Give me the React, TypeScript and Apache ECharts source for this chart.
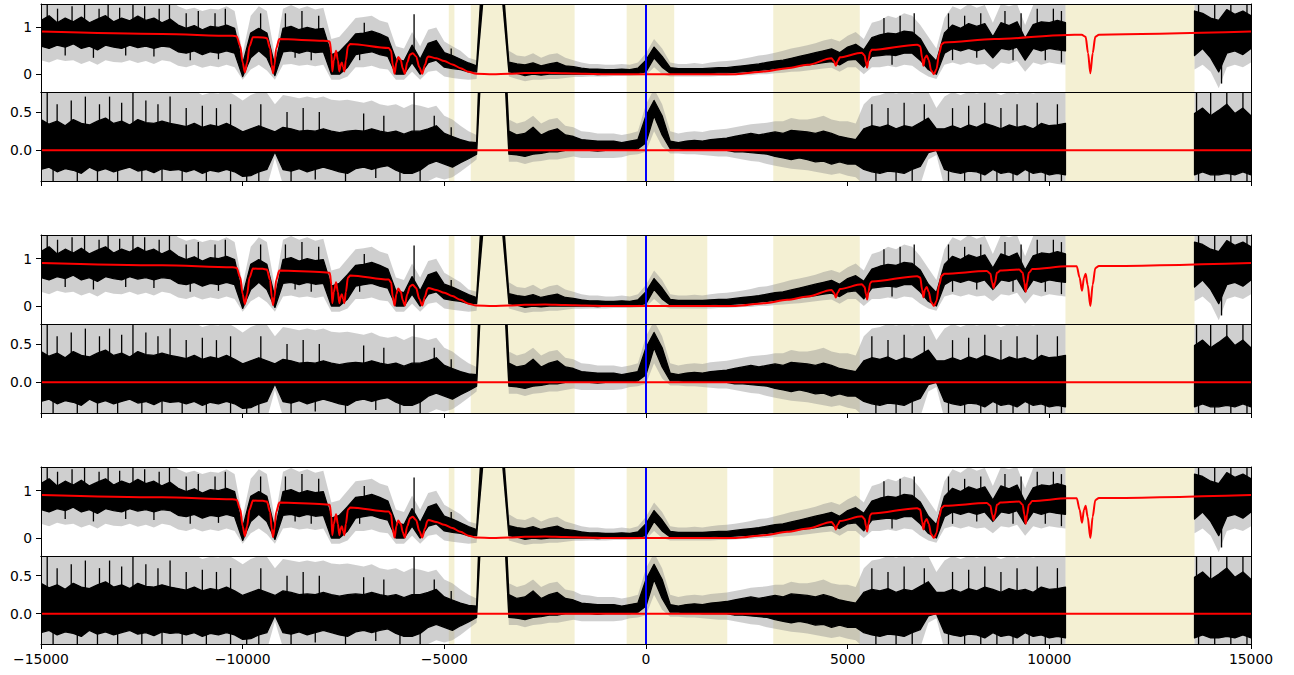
import React, { useEffect, useRef } from 'react';
import * as echarts from 'echarts';

// ---------- sampling grid of the observed spectrum (velocity, km/s) ----------
const X_A: number[] = Array.from({ length: 128 }, (_, i) => -15000 + 200 * i); // -15000 .. 10400
const X_B: number[] = [13600, 13800, 14000, 14200, 14400, 14600, 14800, 15000];

// ---------- normalised flux (upper panels): envelopes ----------
const FLUX_BLACK_LO_A = [
  0.60, 0.55, 0.62, 0.58, 0.65, 0.55, 0.60, 0.52, 0.62, 0.58, 0.55, 0.62, 0.57, 0.60, 0.55, 0.60, 0.58,
  0.48, 0.45, 0.50, 0.42, 0.48, 0.45, 0.50, 0.45,
  -0.05, 0.35, 0.50, 0.35, -0.03, 0.48, 0.50, 0.45, 0.50, 0.46, 0.48,
  0.0, 0.0, 0.15, 0.42, 0.45, 0.48, 0.42, 0.38,
  0.0, 0.0, 0.25, 0.0, 0.25, 0.30, 0.15, 0.12, 0.10, 0.05, 0.05,
  2.0, 3.0, 2.0,
  0.05, 0.02, -0.03, 0.0, -0.02, 0.0, 0.0, 0.0, 0.0, 0.0, 0.0, -0.01, 0.0, 0.0, 0.0, 0.0, 0.02,
  0.05, 0.35, 0.15,
  0.02, 0.02, 0.02, 0.02, 0.02, 0.02, 0.03, 0.03, 0.04, 0.05, 0.06, 0.08, 0.10, 0.12, 0.14, 0.16, 0.18, 0.20, 0.22, 0.25, 0.27,
  0.20, 0.30, 0.32, 0.15, 0.38, 0.40, 0.42, 0.40, 0.45, 0.45, 0.30, 0.10, 0.0, 0.45, 0.55, 0.50, 0.55, 0.50, 0.55, 0.35,
  0.55, 0.52, 0.58, 0.30, 0.55, 0.50, 0.55, 0.52, 0.50,
];
const FLUX_BLACK_HI_A = [
  1.15, 1.25, 1.10, 1.20, 1.12, 1.22, 1.10, 1.18, 1.25, 1.12, 1.20, 1.14, 1.24, 1.15, 1.20, 1.10, 1.18,
  1.05, 0.98, 1.04, 0.95, 1.02, 1.00, 1.05, 0.98,
  0.22, 0.88, 0.98, 0.88, 0.18, 0.98, 1.02, 0.95, 1.00, 0.96, 0.98,
  0.42, 0.48, 0.66, 0.86, 0.88, 0.92, 0.86, 0.78,
  0.32, 0.28, 0.62, 0.32, 0.66, 0.72, 0.46, 0.40, 0.32, 0.24, 0.18,
  3.0, 4.0, 2.5,
  0.26, 0.22, 0.20, 0.24, 0.18, 0.22, 0.25, 0.18, 0.16, 0.13, 0.11, 0.11, 0.10, 0.10, 0.11, 0.10, 0.13,
  0.30, 0.58, 0.38,
  0.14, 0.12, 0.12, 0.12, 0.12, 0.13, 0.14, 0.14, 0.16, 0.18, 0.20, 0.22, 0.25, 0.28, 0.30, 0.34, 0.38, 0.42, 0.46, 0.50, 0.54,
  0.46, 0.58, 0.64, 0.52, 0.78, 0.84, 0.88, 0.86, 0.92, 0.90, 0.76, 0.46, 0.28, 0.88, 1.05, 0.98, 1.08, 1.02, 1.08, 0.80,
  1.10, 1.04, 1.12, 0.76, 1.06, 1.12, 1.10, 1.15, 1.10,
];
const FLUX_GREY_LO_A = [
  0.30, 0.25, 0.32, 0.28, 0.30, 0.22, 0.28, 0.20, 0.30, 0.26, 0.25, 0.30, 0.24, 0.28, 0.22, 0.30, 0.27,
  0.18, 0.15, 0.20, 0.14, 0.18, 0.15, 0.20, 0.15,
  -0.12, 0.10, 0.20, 0.08, -0.12, 0.20, 0.22, 0.18, 0.20, 0.17, 0.20,
  -0.12, -0.12, -0.05, 0.15, 0.15, 0.18, 0.12, 0.10,
  -0.12, -0.12, 0.05, -0.12, 0.05, 0.08, -0.05, -0.08, -0.10, -0.12, -0.10,
  1.8, 2.8, 1.8,
  -0.05, -0.10, -0.15, -0.12, -0.12, -0.10, -0.10, -0.08, -0.06, -0.06, -0.05, -0.05, -0.05, -0.04, -0.04, -0.04, -0.03,
  -0.02, 0.15, 0.0,
  -0.05, -0.05, -0.05, -0.05, -0.05, -0.05, -0.04, -0.04, -0.03, -0.02, -0.02, 0.0, 0.0, 0.02, 0.03, 0.05, 0.06, 0.08, 0.10, 0.12, 0.14,
  0.05, 0.15, 0.15, 0.0, 0.15, 0.15, 0.18, 0.15, 0.20, 0.18, 0.05, -0.05, -0.10, 0.20, 0.25, 0.20, 0.25, 0.20, 0.22, 0.10,
  0.25, 0.22, 0.28, 0.05, 0.25, 0.20, 0.25, 0.22, 0.20,
];
const FLUX_GREY_HI_A = [
  1.6, 1.6, 1.6, 1.6, 1.6, 1.6, 1.6, 1.6, 1.6, 1.6, 1.6, 1.6, 1.6, 1.6, 1.6, 1.6, 1.6,
  1.45, 1.38, 1.42, 1.35, 1.40, 1.38, 1.45, 1.35,
  0.45, 1.25, 1.45, 1.35, 0.40, 1.40, 1.48, 1.40, 1.45, 1.38, 1.42,
  0.75, 0.80, 1.00, 1.20, 1.22, 1.25, 1.15, 1.10,
  0.60, 0.55, 0.90, 0.60, 0.95, 1.00, 0.70, 0.60, 0.50, 0.35, 0.30,
  3.2, 4.2, 2.7,
  0.50, 0.40, 0.38, 0.45, 0.35, 0.42, 0.45, 0.35, 0.30, 0.25, 0.22, 0.22, 0.20, 0.20, 0.22, 0.20, 0.25,
  0.45, 0.75, 0.55,
  0.25, 0.22, 0.22, 0.24, 0.22, 0.25, 0.27, 0.28, 0.30, 0.33, 0.36, 0.40, 0.42, 0.46, 0.50, 0.55, 0.58, 0.62, 0.66, 0.72, 0.76,
  0.70, 0.82, 0.90, 0.75, 1.10, 1.15, 1.25, 1.20, 1.30, 1.25, 1.05, 0.80, 0.55, 1.20, 1.45, 1.38, 1.50, 1.42, 1.48, 1.10,
  1.50, 1.45, 1.50, 1.05, 1.48, 1.50, 1.55, 1.60, 1.55,
];
const FLUX_BLACK_LO_B = [0.40, 0.55, 0.35, 0.05, 0.45, 0.50, 0.42, 0.55];
const FLUX_BLACK_HI_B = [1.35, 1.30, 1.20, 1.15, 1.38, 1.28, 1.35, 1.25];
const FLUX_GREY_LO_B = [0.10, 0.20, 0.05, -0.30, 0.15, 0.20, 0.15, 0.25];
const FLUX_GREY_HI_B = [1.6, 1.6, 1.6, 1.6, 1.6, 1.6, 1.6, 1.6];

// ---------- residuals (lower panels) ----------
const RES_BLACK_LO_A = [
  -0.25, -0.22, -0.28, -0.24, -0.26, -0.30, -0.22, -0.27, -0.24, -0.28, -0.25, -0.22, -0.27, -0.25, -0.29, -0.24, -0.26,
  -0.25, -0.28, -0.25, -0.30, -0.26, -0.28, -0.25, -0.28,
  -0.34, -0.33, -0.28, -0.25, -0.02, -0.25, -0.27, -0.24, -0.28, -0.25, -0.22,
  -0.25, -0.28, -0.30, -0.24, -0.22, -0.25, -0.22, -0.20,
  -0.26, -0.30, -0.30, -0.26, -0.18, -0.14, -0.18, -0.22, -0.16, -0.11, -0.05,
  2.0, 3.0, 2.0,
  -0.05, -0.06, -0.08, -0.05, -0.04, -0.02, -0.02, 0.0, 0.0, 0.0, 0.0, -0.01, 0.0, 0.0, 0.0, 0.0, 0.02,
  0.10, 0.45, 0.20,
  0.02, 0.02, 0.01, 0.01, 0.0, 0.0, 0.0, 0.0, -0.02, -0.02, -0.03, -0.04, -0.05, -0.08, -0.10, -0.12, -0.10, -0.12, -0.15, -0.14, -0.18,
  -0.15, -0.18, -0.18, -0.25, -0.28, -0.30, -0.27, -0.28, -0.30, -0.25, -0.21, -0.03, 0.0, -0.25, -0.28, -0.30, -0.27, -0.28, -0.32, -0.25,
  -0.30, -0.28, -0.32, -0.25, -0.30, -0.28, -0.32, -0.30, -0.32,
];
const RES_BLACK_HI_A = [
  0.40, 0.34, 0.38, 0.32, 0.40, 0.35, 0.33, 0.38, 0.42, 0.35, 0.38, 0.33, 0.40, 0.36, 0.35, 0.38, 0.35,
  0.33, 0.31, 0.35, 0.30, 0.33, 0.31, 0.35, 0.30,
  0.24, 0.28, 0.32, 0.28, 0.24, 0.30, 0.28, 0.25, 0.26, 0.25, 0.28,
  0.25, 0.23, 0.25, 0.26, 0.25, 0.28, 0.25, 0.23,
  0.25, 0.21, 0.25, 0.25, 0.28, 0.32, 0.22, 0.18, 0.14, 0.11, 0.10,
  3.0, 4.0, 2.5,
  0.25, 0.20, 0.22, 0.30, 0.20, 0.25, 0.28, 0.20, 0.18, 0.14, 0.13, 0.12, 0.12, 0.12, 0.10, 0.12, 0.14,
  0.45, 0.65, 0.45,
  0.12, 0.10, 0.12, 0.13, 0.12, 0.14, 0.15, 0.16, 0.18, 0.20, 0.22, 0.20, 0.22, 0.24, 0.22, 0.26, 0.25, 0.24, 0.22, 0.25, 0.22,
  0.18, 0.16, 0.14, 0.28, 0.32, 0.30, 0.33, 0.28, 0.32, 0.30, 0.36, 0.42, 0.28, 0.28, 0.32, 0.28, 0.33, 0.30, 0.35, 0.32,
  0.28, 0.33, 0.30, 0.32, 0.28, 0.35, 0.32, 0.33, 0.35,
];
const RES_GREY_LO_A = [
  -0.5, -0.5, -0.5, -0.5, -0.5, -0.5, -0.5, -0.5, -0.5, -0.5, -0.5, -0.5, -0.5, -0.5, -0.5, -0.5, -0.5,
  -0.48, -0.5, -0.48, -0.5, -0.5, -0.5, -0.48, -0.5,
  -0.5, -0.5, -0.5, -0.48, -0.10, -0.45, -0.48, -0.45, -0.5, -0.48, -0.45,
  -0.45, -0.5, -0.5, -0.45, -0.42, -0.45, -0.42, -0.40,
  -0.45, -0.5, -0.5, -0.45, -0.40, -0.35, -0.38, -0.35, -0.28, -0.20, -0.12,
  1.8, 2.8, 1.8,
  -0.15, -0.15, -0.18, -0.15, -0.14, -0.12, -0.12, -0.10, -0.08, -0.10, -0.10, -0.10, -0.10, -0.10, -0.09, -0.06, -0.05,
  -0.02, 0.25, 0.05,
  -0.04, -0.04, -0.05, -0.05, -0.06, -0.07, -0.08, -0.08, -0.10, -0.12, -0.14, -0.15, -0.18, -0.20, -0.22, -0.24, -0.25, -0.26, -0.28, -0.30, -0.32,
  -0.30, -0.33, -0.35, -0.45, -0.5, -0.5, -0.5, -0.5, -0.5, -0.48, -0.45, -0.12, -0.06, -0.48, -0.5, -0.5, -0.5, -0.5, -0.5, -0.5,
  -0.5, -0.5, -0.5, -0.5, -0.5, -0.5, -0.5, -0.5, -0.5,
];
const RES_GREY_HI_A = [
  0.8, 0.8, 0.8, 0.8, 0.8, 0.8, 0.8, 0.8, 0.8, 0.8, 0.8, 0.8, 0.8, 0.8, 0.8, 0.8, 0.8,
  0.78, 0.75, 0.78, 0.72, 0.75, 0.74, 0.78, 0.72,
  0.65, 0.72, 0.76, 0.75, 0.60, 0.72, 0.70, 0.68, 0.70, 0.68, 0.70,
  0.66, 0.65, 0.66, 0.64, 0.62, 0.65, 0.60, 0.58,
  0.60, 0.55, 0.60, 0.58, 0.55, 0.58, 0.45, 0.40, 0.32, 0.25, 0.20,
  3.2, 4.2, 2.7,
  0.40, 0.35, 0.38, 0.45, 0.35, 0.40, 0.42, 0.32, 0.30, 0.25, 0.24, 0.22, 0.22, 0.22, 0.20, 0.22, 0.25,
  0.60, 0.80, 0.60,
  0.25, 0.22, 0.24, 0.25, 0.24, 0.26, 0.27, 0.28, 0.30, 0.32, 0.34, 0.35, 0.36, 0.38, 0.38, 0.42, 0.40, 0.40, 0.42, 0.45, 0.40,
  0.38, 0.38, 0.35, 0.60, 0.70, 0.72, 0.76, 0.74, 0.76, 0.74, 0.76, 0.76, 0.55, 0.70, 0.76, 0.72, 0.76, 0.74, 0.76, 0.76,
  0.72, 0.76, 0.74, 0.76, 0.74, 0.76, 0.76, 0.76, 0.76,
];
const RES_BLACK_LO_B = [-0.32, -0.28, -0.32, -0.32, -0.30, -0.32, -0.28, -0.32];
const RES_BLACK_HI_B = [0.48, 0.55, 0.45, 0.52, 0.60, 0.48, 0.55, 0.45];
const RES_GREY_LO_B = [-0.5, -0.5, -0.5, -0.5, -0.5, -0.5, -0.5, -0.5];
const RES_GREY_HI_B = [0.8, 0.8, 0.8, 0.8, 0.8, 0.8, 0.8, 0.8];

// isolated noise spikes [x, from, to]
const FLUX_SPIKES = [
  [-14846, 1.0, 1.6], [-14590, 1.0, 1.4], [-14230, 1.0, 1.45], [-13920, 1.0, 1.6], [-13560, 1.0, 1.4],
  [-13336, 1.0, 1.6], [-13050, 1.0, 1.42], [-12720, 1.0, 1.6], [-12430, 1.0, 1.45], [-12070, 1.0, 1.4],
  [-11815, 1.0, 1.6], [-11400, 0.9, 1.3], [-11100, 0.9, 1.35], [-10685, 0.9, 1.3], [-10430, 0.9, 1.4],
  [-9555, 0.8, 1.3], [-8940, 0.8, 1.3], [-8530, 0.8, 1.35], [-8115, 0.8, 1.25], [-6985, 0.7, 1.1],
  [-5750, 0.4, 1.28], [-4830, 0.15, 0.55], [5900, 0.7, 1.2], [6300, 0.7, 1.25], [6650, 0.7, 1.3],
  [7500, 0.8, 1.3], [7900, 0.8, 1.25], [8300, 0.8, 1.3], [8900, 0.8, 1.35], [9300, 0.8, 1.3],
  [9700, 0.8, 1.4], [10100, 0.8, 1.4], [10300, 0.8, 1.35],
  [13700, 1.0, 1.6], [14100, 1.0, 1.6], [14500, 1.0, 1.6], [14900, 1.0, 1.6],
  [-14400, 0.7, 0.4], [-13700, 0.7, 0.35], [-12900, 0.7, 0.4], [-12200, 0.7, 0.38], [-11300, 0.6, 0.3],
  [-10600, 0.6, 0.32], [-8700, 0.6, 0.35], [-8300, 0.6, 0.3], [-7100, 0.5, 0.3], [6100, 0.5, 0.2],
  [7600, 0.6, 0.3], [8200, 0.6, 0.35], [9100, 0.6, 0.3], [9900, 0.6, 0.3], [10300, 0.6, 0.25], [14270, 0.5, -0.2],
];
const RES_SPIKES = [
  [-14846, 0.2, 0.8], [-14600, 0.2, 0.6], [-14250, 0.2, 0.65], [-13900, 0.2, 0.7], [-13550, 0.2, 0.6],
  [-13300, 0.2, 0.7], [-13000, 0.2, 0.62], [-12720, 0.2, 0.8], [-12400, 0.2, 0.65], [-12100, 0.2, 0.6],
  [-11800, 0.2, 0.7], [-11400, 0.2, 0.55], [-11000, 0.2, 0.58], [-10650, 0.2, 0.55], [-10300, 0.2, 0.6],
  [-9550, 0.2, 0.6], [-8900, 0.2, 0.5], [-8500, 0.2, 0.55], [-8100, 0.2, 0.5], [-7000, 0.2, 0.48],
  [-6500, 0.2, 0.45], [-5750, 0.2, 0.8], [-5250, 0.2, 0.45], [-4830, -0.2, 0.3],
  [5600, 0.2, 0.6], [6000, 0.2, 0.55], [6400, 0.2, 0.62], [6900, 0.2, 0.6], [7600, 0.2, 0.55],
  [8000, 0.2, 0.58], [8400, 0.2, 0.62], [8800, 0.2, 0.55], [9200, 0.2, 0.6], [9700, 0.2, 0.62],
  [10200, 0.2, 0.6], [13650, 0.3, 0.8], [14000, 0.3, 0.8], [14400, 0.3, 0.8], [14800, 0.3, 0.8],
  [-14700, -0.2, -0.5], [-14100, -0.2, -0.5], [-13600, -0.2, -0.5], [-13100, -0.2, -0.5], [-12500, -0.2, -0.5],
  [-12000, -0.2, -0.5], [-11500, -0.2, -0.5], [-10900, -0.2, -0.5], [-10300, -0.2, -0.5], [-9900, -0.2, -0.5],
  [-9600, -0.2, -0.5], [-8800, -0.2, -0.5], [-8200, -0.2, -0.38], [-7450, -0.2, -0.5], [-6700, -0.2, -0.36],
  [-6100, -0.2, -0.5], [-5600, -0.2, -0.5], [5700, -0.2, -0.5], [6200, -0.2, -0.5], [6600, -0.2, -0.5],
  [7500, -0.2, -0.5], [7900, -0.2, -0.5], [8300, -0.2, -0.5], [8700, -0.2, -0.5], [9100, -0.2, -0.5],
  [9500, -0.2, -0.5], [9900, -0.2, -0.5], [10300, -0.2, -0.5], [13700, -0.2, -0.5], [14100, -0.2, -0.5],
  [14500, -0.2, -0.5], [14900, -0.2, -0.5],
];

// ---------- fitted models (red) ----------
const MODEL_1: number[][] = [
  [-15000, 0.91], [-12000, 0.86], [-10250, 0.82], [-10150, 0.81], [-10060, 0.6], [-10000, 0.25], [-9945, 0.04],
  [-9890, 0.25], [-9830, 0.6], [-9745, 0.79], [-9500, 0.785], [-9400, 0.77], [-9320, 0.55], [-9280, 0.2],
  [-9247, 0.02], [-9210, 0.2], [-9170, 0.55], [-9090, 0.75], [-8000, 0.715], [-7840, 0.7], [-7800, 0.45],
  [-7777, 0.06], [-7740, 0.3], [-7685, 0.5], [-7640, 0.3], [-7603, 0.06], [-7570, 0.2], [-7541, 0.25],
  [-7510, 0.15], [-7479, 0.06], [-7440, 0.3], [-7390, 0.6], [-7330, 0.645], [-6380, 0.56], [-6320, 0.5],
  [-6280, 0.2], [-6233, 0.01], [-6190, 0.25], [-6144, 0.37], [-6080, 0.3], [-6030, 0.12], [-5979, 0.01],
  [-5920, 0.25], [-5850, 0.42], [-5784, 0.45], [-5700, 0.38], [-5620, 0.15], [-5548, 0.01], [-5480, 0.2],
  [-5420, 0.36], [-5394, 0.38], [-5200, 0.34], [-5000, 0.28], [-4800, 0.21], [-4600, 0.13], [-4400, 0.05],
  [-4212, 0.01], [-3800, 0.0], [-3400, 0.01], [-3000, 0.025], [-2500, 0.03], [-2000, 0.02], [-1500, 0.01],
  [-1000, 0.0], [2224, 0.0], [2950, 0.06], [3500, 0.13], [4000, 0.2], [4600, 0.34], [4660, 0.28], [4707, 0.18],
  [4750, 0.28], [4810, 0.36], [5350, 0.46], [5420, 0.4], [5455, 0.25], [5483, 0.14], [5515, 0.3], [5560, 0.48],
  [5600, 0.52], [6724, 0.63], [6800, 0.6], [6845, 0.35], [6879, 0.18], [6915, 0.35], [6960, 0.4], [7010, 0.3],
  [7070, 0.08], [7138, 0.0], [7200, 0.1], [7270, 0.45], [7330, 0.64], [7397, 0.68], [8638, 0.75], [10448, 0.84],
  [10800, 0.845], [10900, 0.8], [10960, 0.45], [11017, 0.02], [11075, 0.45], [11140, 0.8], [11230, 0.845], [15000, 0.91],
];
const MODEL_2: number[][] = [
  [-15000, 0.91], [-12000, 0.86], [-10250, 0.82], [-10150, 0.81], [-10060, 0.6], [-10000, 0.25], [-9945, 0.04],
  [-9890, 0.25], [-9830, 0.6], [-9745, 0.79], [-9500, 0.785], [-9400, 0.77], [-9320, 0.55], [-9280, 0.2],
  [-9247, 0.02], [-9210, 0.2], [-9170, 0.55], [-9090, 0.75], [-8000, 0.715], [-7840, 0.7], [-7800, 0.45],
  [-7777, 0.06], [-7740, 0.3], [-7685, 0.5], [-7640, 0.3], [-7603, 0.06], [-7570, 0.2], [-7541, 0.25],
  [-7510, 0.15], [-7479, 0.06], [-7440, 0.3], [-7390, 0.6], [-7330, 0.645], [-6380, 0.56], [-6320, 0.5],
  [-6280, 0.2], [-6233, 0.01], [-6190, 0.25], [-6144, 0.37], [-6080, 0.3], [-6030, 0.12], [-5979, 0.01],
  [-5920, 0.25], [-5850, 0.42], [-5784, 0.45], [-5700, 0.38], [-5620, 0.15], [-5548, 0.01], [-5480, 0.2],
  [-5420, 0.36], [-5394, 0.38], [-5200, 0.34], [-5000, 0.28], [-4800, 0.21], [-4600, 0.13], [-4400, 0.05],
  [-4212, 0.01], [-3800, 0.0], [-3400, 0.01], [-3000, 0.025], [-2500, 0.03], [-2000, 0.02], [-1500, 0.01],
  [-1000, 0.0], [2224, 0.0], [2950, 0.06], [3500, 0.13], [4000, 0.2], [4600, 0.34], [4660, 0.28], [4707, 0.18],
  [4750, 0.28], [4810, 0.36], [5350, 0.46], [5420, 0.4], [5455, 0.25], [5483, 0.14], [5515, 0.3], [5560, 0.48],
  [5600, 0.52], [6724, 0.63], [6800, 0.6], [6845, 0.35], [6879, 0.18], [6915, 0.35], [6960, 0.4], [7010, 0.3],
  [7070, 0.08], [7138, 0.0], [7200, 0.1], [7270, 0.45], [7330, 0.64], [7397, 0.68], [8450, 0.74], [8540, 0.68],
  [8580, 0.5], [8617, 0.38], [8655, 0.5], [8700, 0.7], [8790, 0.75], [9250, 0.77], [9340, 0.7], [9380, 0.5],
  [9414, 0.3], [9450, 0.5], [9490, 0.7], [9580, 0.78], [10448, 0.84], [10680, 0.84], [10750, 0.6], [10810, 0.32],
  [10860, 0.6], [10900, 0.68], [10950, 0.45], [11017, 0.0], [11075, 0.45], [11140, 0.8], [11230, 0.845], [15000, 0.91],
];
const MODELS = [MODEL_1, MODEL_2, MODEL_2];
const RESID_MODEL: number[][] = [[-15000, 0], [15000, 0]];

// ---------- shaded (fit) windows ----------
const SHADES_COMMON: number[][] = [[-4890, -4750], [-4345, -1770], [3155, 5300], [10400, 13600]];
const CORE_SHADE_START = -480;
const CORE_SHADE_END = [700, 1520, 2015];

// ---------- axes ----------
const X_MIN = -15000, X_MAX = 15000, X_STEP = 5000;
const FLUX_RANGE = [-0.38, 1.5];
const RES_RANGE = [-0.4, 0.76];
const FLUX_TICKS = [0, 1];
const RES_TICKS = [0, 0.5];

const GRIDS = [
  { top: 4, height: 88 }, { top: 92, height: 89 },
  { top: 235, height: 89 }, { top: 324, height: 89 },
  { top: 467, height: 89 }, { top: 556, height: 88 },
];

const FONT = 'DejaVu Sans';
const BEIGE = '#f4f0d3';
const GREY = 'rgba(140,140,140,0.42)';

function band(xs: number[], lo: number[], hi: number[]) {
  return { xs, lo, hi };
}
const FLUX_SEGS = {
  grey: [band(X_A, FLUX_GREY_LO_A, FLUX_GREY_HI_A), band(X_B, FLUX_GREY_LO_B, FLUX_GREY_HI_B)],
  black: [band(X_A, FLUX_BLACK_LO_A, FLUX_BLACK_HI_A), band(X_B, FLUX_BLACK_LO_B, FLUX_BLACK_HI_B)],
};
const RES_SEGS = {
  grey: [band(X_A, RES_GREY_LO_A, RES_GREY_HI_A), band(X_B, RES_GREY_LO_B, RES_GREY_HI_B)],
  black: [band(X_A, RES_BLACK_LO_A, RES_BLACK_HI_A), band(X_B, RES_BLACK_LO_B, RES_BLACK_HI_B)],
};

function bandSeries(axis: number, segs: any[], fill: string, stroke: string | null, z: number) {
  return {
    type: 'custom', xAxisIndex: axis, yAxisIndex: axis, clip: true, silent: true, z,
    data: segs.map((s, i) => [s.xs[0], i]),
    renderItem: (params: any, api: any) => {
      const s = segs[params.dataIndex];
      const pts: number[][] = [];
      for (let i = 0; i < s.xs.length; i++) pts.push(api.coord([s.xs[i], s.hi[i]]));
      for (let i = s.xs.length - 1; i >= 0; i--) pts.push(api.coord([s.xs[i], s.lo[i]]));
      return {
        type: 'polygon', shape: { points: pts },
        style: stroke ? { fill, stroke, lineWidth: 1.3, lineJoin: 'round' } : { fill },
      };
    },
  };
}

function spikeSeries(axis: number, spikes: number[][], z: number) {
  return {
    type: 'custom', xAxisIndex: axis, yAxisIndex: axis, clip: true, silent: true, z,
    data: spikes.map((s) => [s[0], s[1], s[2]]),
    renderItem: (params: any, api: any) => {
      const a = api.coord([api.value(0), api.value(1)]);
      const b = api.coord([api.value(0), api.value(2)]);
      return { type: 'line', shape: { x1: a[0], y1: a[1], x2: b[0], y2: b[1] }, style: { stroke: '#000', lineWidth: 1.3 } };
    },
  };
}

function buildOption() {
  const xAxis: any[] = [];
  const yAxis: any[] = [];
  const line = { color: '#000', width: 1 };
  GRIDS.forEach((_, g) => {
    const isRes = g % 2 === 1;
    const isLast = g === GRIDS.length - 1;
    xAxis.push({
      type: 'value', gridIndex: g, min: X_MIN, max: X_MAX, interval: X_STEP, position: 'bottom', z: 10,
      axisLine: { show: true, onZero: false, lineStyle: line },
      axisTick: { show: isRes, length: 5, inside: false, lineStyle: line },
      axisLabel: {
        show: isLast, margin: 8, color: '#000', fontFamily: FONT, fontSize: 13.9,
        showMinLabel: true, showMaxLabel: true,
        formatter: (v: number) => String(v).replace('-', '\u2212'),
      },
      splitLine: { show: false },
    });
    xAxis.push({
      type: 'value', gridIndex: g, min: X_MIN, max: X_MAX, position: 'top', z: 10,
      axisLine: { show: true, onZero: false, lineStyle: line },
      axisTick: { show: false }, axisLabel: { show: false }, splitLine: { show: false },
    });
    const range = isRes ? RES_RANGE : FLUX_RANGE;
    const ticks = isRes ? RES_TICKS : FLUX_TICKS;
    yAxis.push({
      type: 'value', gridIndex: g, min: range[0], max: range[1], position: 'left', z: 10,
      axisLine: { show: true, onZero: false, lineStyle: line },
      axisTick: { show: true, length: 5, inside: false, lineStyle: line, customValues: ticks },
      axisLabel: {
        show: true, margin: 9, color: '#000', fontFamily: FONT, fontSize: 13.9, customValues: ticks,
        formatter: (v: number) => (isRes ? v.toFixed(1) : String(Math.round(v))),
      },
      splitLine: { show: false },
    });
    yAxis.push({
      type: 'value', gridIndex: g, min: range[0], max: range[1], position: 'right', z: 10,
      axisLine: { show: true, onZero: false, lineStyle: line },
      axisTick: { show: false }, axisLabel: { show: false }, splitLine: { show: false },
    });
  });

  const series: any[] = [];
  for (let k = 0; k < 3; k++) {
    const shades = [...SHADES_COMMON, [CORE_SHADE_START, CORE_SHADE_END[k]]];
    for (let p = 0; p < 2; p++) {
      const g = 2 * k + p;
      const axis = 2 * g;
      const isRes = p === 1;
      const segs = isRes ? RES_SEGS : FLUX_SEGS;
      series.push({
        type: 'line', xAxisIndex: axis, yAxisIndex: axis, data: [], z: 1, silent: true,
        markArea: {
          silent: true, itemStyle: { color: BEIGE },
          data: shades.map(([a, b]) => [{ xAxis: a }, { xAxis: b }]),
        },
      });
      series.push(bandSeries(axis, segs.grey, GREY, null, 2));
      series.push(bandSeries(axis, segs.black, '#000', '#000', 3));
      series.push(spikeSeries(axis, isRes ? RES_SPIKES : FLUX_SPIKES, 3));
      series.push({
        type: 'line', xAxisIndex: axis, yAxisIndex: axis, z: 4, silent: true,
        data: isRes ? RESID_MODEL : MODELS[k], showSymbol: false, symbol: 'none',
        smooth: isRes ? false : 0.3, smoothMonotone: 'x',
        lineStyle: { color: '#ff0000', width: 2 },
      });
      series.push({
        type: 'line', xAxisIndex: axis, yAxisIndex: axis, data: [], z: 5, silent: true,
        markLine: {
          silent: true, symbol: ['none', 'none'], label: { show: false },
          lineStyle: { color: '#0000ff', width: 2, type: 'solid' },
          data: [{ xAxis: 0 }],
        },
      });
    }
  }

  return {
    animation: false,
    backgroundColor: '#ffffff',
    grid: GRIDS.map((g) => ({ left: 41, width: 1210, top: g.top, height: g.height, show: false })),
    xAxis, yAxis, series,
  };
}

export default function App() {
  const ref = useRef<HTMLDivElement>(null);
  useEffect(() => {
    if (!ref.current) return;
    const chart = echarts.init(ref.current, null, { renderer: 'svg' });
    chart.setOption(buildOption() as any);
    return () => chart.dispose();
  }, []);
  return <div ref={ref} style={{ position: 'fixed', left: 0, top: 0, width: 1294, height: 675, background: '#fff' }} />;
}
